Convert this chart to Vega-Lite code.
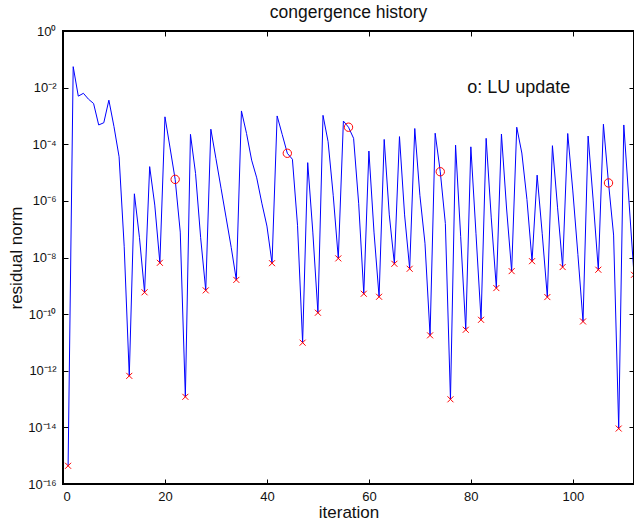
{
  "$schema": "https://vega.github.io/schema/vega-lite/v6.json",
  "width": 571,
  "height": 453,
  "autosize": {"type": "none"},
  "padding": {"left": 63, "top": 31, "right": 0, "bottom": 37},
  "background": "white",
  "title": {"text": "congergence history", "font": "Liberation Sans", "fontSize": 17.5, "fontWeight": "normal", "color": "#111111", "anchor": "middle", "offset": 4},
  "config": {
    "view": {"stroke": "#000000", "strokeWidth": 1},
    "axis": {"zindex": 1, "grid": false, "domain": true, "domainColor": "#000000", "domainWidth": 1, "ticks": true, "tickSize": -5, "tickWidth": 1, "tickColor": "#000000", "labelColor": "#111111", "titleColor": "#111111", "labelFont": "Liberation Sans", "labelFontSize": 13, "titleFont": "Liberation Sans", "titleFontSize": 17, "titleFontWeight": "normal"}
  },
  "data": {"values": [
    {"it": 1, "r": 4.4e-16, "kind": "min"},
    {"it": 2, "r": 5.5e-2, "kind": ""},
    {"it": 3, "r": 5.0e-3, "kind": ""},
    {"it": 4, "r": 6.3e-3, "kind": ""},
    {"it": 5, "r": 3.9e-3, "kind": ""},
    {"it": 6, "r": 2.75e-3, "kind": ""},
    {"it": 7, "r": 4.8e-4, "kind": ""},
    {"it": 8, "r": 5.75e-4, "kind": ""},
    {"it": 9, "r": 3.6e-3, "kind": ""},
    {"it": 10, "r": 4.2e-4, "kind": ""},
    {"it": 11, "r": 3.6e-5, "kind": ""},
    {"it": 12, "r": 2.5e-8, "kind": ""},
    {"it": 13, "r": 6.6e-13, "kind": "min"},
    {"it": 14, "r": 1.78e-6, "kind": ""},
    {"it": 15, "r": 5.0e-8, "kind": ""},
    {"it": 16, "r": 5.9e-10, "kind": "min"},
    {"it": 17, "r": 1.62e-5, "kind": ""},
    {"it": 18, "r": 7.1e-7, "kind": ""},
    {"it": 19, "r": 6.5e-9, "kind": "min"},
    {"it": 20, "r": 9.3e-4, "kind": ""},
    {"it": 21, "r": 7.4e-5, "kind": ""},
    {"it": 22, "r": 5.75e-6, "kind": "lu"},
    {"it": 23, "r": 7.9e-8, "kind": ""},
    {"it": 24, "r": 1.2e-13, "kind": "min"},
    {"it": 25, "r": 2.24e-4, "kind": ""},
    {"it": 26, "r": 9.3e-6, "kind": ""},
    {"it": 27, "r": 5.0e-8, "kind": ""},
    {"it": 28, "r": 6.9e-10, "kind": "min"},
    {"it": 29, "r": 3.4e-4, "kind": ""},
    {"it": 30, "r": 3.1e-5, "kind": ""},
    {"it": 31, "r": 2.8e-6, "kind": ""},
    {"it": 32, "r": 2.5e-7, "kind": ""},
    {"it": 33, "r": 2.24e-8, "kind": ""},
    {"it": 34, "r": 1.62e-9, "kind": "min"},
    {"it": 35, "r": 1.5e-3, "kind": ""},
    {"it": 36, "r": 2.4e-4, "kind": ""},
    {"it": 37, "r": 2.75e-5, "kind": ""},
    {"it": 38, "r": 6.5e-6, "kind": ""},
    {"it": 39, "r": 8.3e-7, "kind": ""},
    {"it": 40, "r": 1.29e-7, "kind": ""},
    {"it": 41, "r": 6.3e-9, "kind": "min"},
    {"it": 42, "r": 1.0e-3, "kind": ""},
    {"it": 43, "r": 2.2e-4, "kind": ""},
    {"it": 44, "r": 4.8e-5, "kind": "lu"},
    {"it": 45, "r": 2.95e-5, "kind": ""},
    {"it": 46, "r": 1.38e-7, "kind": ""},
    {"it": 47, "r": 9.8e-12, "kind": "min"},
    {"it": 48, "r": 2.24e-5, "kind": ""},
    {"it": 49, "r": 7.9e-8, "kind": ""},
    {"it": 50, "r": 1.12e-10, "kind": "min"},
    {"it": 51, "r": 1.05e-3, "kind": ""},
    {"it": 52, "r": 1.23e-4, "kind": ""},
    {"it": 53, "r": 1.58e-6, "kind": ""},
    {"it": 54, "r": 9.3e-9, "kind": "min"},
    {"it": 55, "r": 6.6e-4, "kind": ""},
    {"it": 56, "r": 4.0e-4, "kind": "lu"},
    {"it": 57, "r": 1.62e-4, "kind": ""},
    {"it": 58, "r": 7.9e-7, "kind": ""},
    {"it": 59, "r": 5.25e-10, "kind": "min"},
    {"it": 60, "r": 5.75e-5, "kind": ""},
    {"it": 61, "r": 7.9e-8, "kind": ""},
    {"it": 62, "r": 4.1e-10, "kind": "min"},
    {"it": 63, "r": 1.48e-4, "kind": ""},
    {"it": 64, "r": 3.2e-7, "kind": ""},
    {"it": 65, "r": 6.0e-9, "kind": "min"},
    {"it": 66, "r": 1.86e-4, "kind": ""},
    {"it": 67, "r": 3.2e-7, "kind": ""},
    {"it": 68, "r": 4.0e-9, "kind": "min"},
    {"it": 69, "r": 3.6e-4, "kind": ""},
    {"it": 70, "r": 1.58e-6, "kind": ""},
    {"it": 71, "r": 3.2e-8, "kind": ""},
    {"it": 72, "r": 1.78e-11, "kind": "min"},
    {"it": 73, "r": 2.45e-4, "kind": ""},
    {"it": 74, "r": 1.07e-5, "kind": "lu"},
    {"it": 75, "r": 1.58e-7, "kind": ""},
    {"it": 76, "r": 9.8e-14, "kind": "min"},
    {"it": 77, "r": 9.3e-5, "kind": ""},
    {"it": 78, "r": 5.6e-8, "kind": ""},
    {"it": 79, "r": 2.8e-11, "kind": "min"},
    {"it": 80, "r": 8.1e-5, "kind": ""},
    {"it": 81, "r": 7.2e-8, "kind": ""},
    {"it": 82, "r": 6.3e-11, "kind": "min"},
    {"it": 83, "r": 1.62e-4, "kind": ""},
    {"it": 84, "r": 2.5e-7, "kind": ""},
    {"it": 85, "r": 8.3e-10, "kind": "min"},
    {"it": 86, "r": 2.3e-4, "kind": ""},
    {"it": 87, "r": 5.6e-7, "kind": ""},
    {"it": 88, "r": 3.3e-9, "kind": "min"},
    {"it": 89, "r": 4.0e-4, "kind": ""},
    {"it": 90, "r": 4.9e-5, "kind": ""},
    {"it": 91, "r": 1.12e-6, "kind": ""},
    {"it": 92, "r": 7.4e-9, "kind": "min"},
    {"it": 93, "r": 8.1e-6, "kind": ""},
    {"it": 94, "r": 6.9e-8, "kind": ""},
    {"it": 95, "r": 4.0e-10, "kind": "min"},
    {"it": 96, "r": 8.9e-5, "kind": ""},
    {"it": 97, "r": 6.0e-7, "kind": ""},
    {"it": 98, "r": 4.6e-9, "kind": "min"},
    {"it": 99, "r": 2.4e-4, "kind": ""},
    {"it": 100, "r": 2.24e-6, "kind": ""},
    {"it": 101, "r": 1.26e-8, "kind": ""},
    {"it": 102, "r": 5.5e-11, "kind": "min"},
    {"it": 103, "r": 1.95e-4, "kind": ""},
    {"it": 104, "r": 1.0e-6, "kind": ""},
    {"it": 105, "r": 3.7e-9, "kind": "min"},
    {"it": 106, "r": 5.1e-4, "kind": ""},
    {"it": 107, "r": 4.3e-6, "kind": "lu"},
    {"it": 108, "r": 6.2e-8, "kind": ""},
    {"it": 109, "r": 9.1e-15, "kind": "min"},
    {"it": 110, "r": 4.8e-4, "kind": ""},
    {"it": 111, "r": 1.07e-6, "kind": ""},
    {"it": 112, "r": 2.45e-9, "kind": "min"}
  ]},
  "resolve": {"axis": {"x": "independent", "y": "independent"}},
  "layer": [
    {
      "mark": {"type": "line", "color": "#0000ff", "strokeWidth": 1},
      "encoding": {
        "x": {"field": "it", "type": "quantitative", "scale": {"domain": [0, 112], "nice": false, "zero": false},
              "axis": {"orient": "bottom", "values": [0, 20, 40, 60, 80, 100], "title": "iteration", "labelPadding": 11, "titlePadding": 1}},
        "y": {"field": "r", "type": "quantitative", "scale": {"type": "log", "domain": [1e-16, 1], "nice": false},
              "axis": {"orient": "left", "values": [1e-16, 1e-14, 1e-12, 1e-10, 1e-8, 1e-6, 1e-4, 1e-2, 1], "title": "residual norm", "labelPadding": 12, "titlePadding": 2,
                       "labelExpr": "datum.value > 0.1 ? '10⁰' : datum.value > 1e-3 ? '10⁻²' : datum.value > 1e-5 ? '10⁻⁴' : datum.value > 1e-7 ? '10⁻⁶' : datum.value > 1e-9 ? '10⁻⁸' : datum.value > 1e-11 ? '10⁻¹⁰' : datum.value > 1e-13 ? '10⁻¹²' : datum.value > 1e-15 ? '10⁻¹⁴' : '10⁻¹⁶'"}}
      }
    },
    {
      "transform": [{"filter": "datum.kind == 'min'"}],
      "mark": {"type": "point", "shape": "M-1,-1L1,1M-1,1L1,-1", "filled": false, "stroke": "#ff0000", "strokeWidth": 1, "size": 36, "opacity": 1},
      "encoding": {
        "x": {"field": "it", "type": "quantitative", "axis": {"orient": "top", "values": [0, 20, 40, 60, 80, 100], "labels": false, "title": null}},
        "y": {"field": "r", "type": "quantitative", "scale": {"type": "log"}, "axis": {"orient": "right", "values": [1e-16, 1e-14, 1e-12, 1e-10, 1e-8, 1e-6, 1e-4, 1e-2, 1], "labels": false, "title": null}}
      }
    },
    {
      "transform": [{"filter": "datum.kind == 'lu'"}],
      "mark": {"type": "point", "shape": "circle", "filled": false, "stroke": "#ff0000", "strokeWidth": 1, "size": 70, "opacity": 1},
      "encoding": {
        "x": {"field": "it", "type": "quantitative", "axis": null},
        "y": {"field": "r", "type": "quantitative", "scale": {"type": "log"}, "axis": null}
      }
    },
    {
      "data": {"values": [{"it": 79.3, "r": 0.01, "label": "o: LU update"}]},
      "mark": {"type": "text", "font": "Liberation Sans", "fontSize": 18, "color": "#111111", "align": "left", "baseline": "middle"},
      "encoding": {
        "x": {"field": "it", "type": "quantitative", "axis": null},
        "y": {"field": "r", "type": "quantitative", "scale": {"type": "log"}, "axis": null},
        "text": {"field": "label"}
      }
    },
    {
      "mark": {"type": "rect", "fill": null, "fillOpacity": 0, "stroke": "#000000", "strokeWidth": 1.5},
      "encoding": {
        "x": {"datum": 0, "type": "quantitative", "axis": null},
        "x2": {"datum": 112},
        "y": {"datum": 1e-16, "type": "quantitative", "scale": {"type": "log"}, "axis": null},
        "y2": {"datum": 1}
      }
    }
  ]
}
